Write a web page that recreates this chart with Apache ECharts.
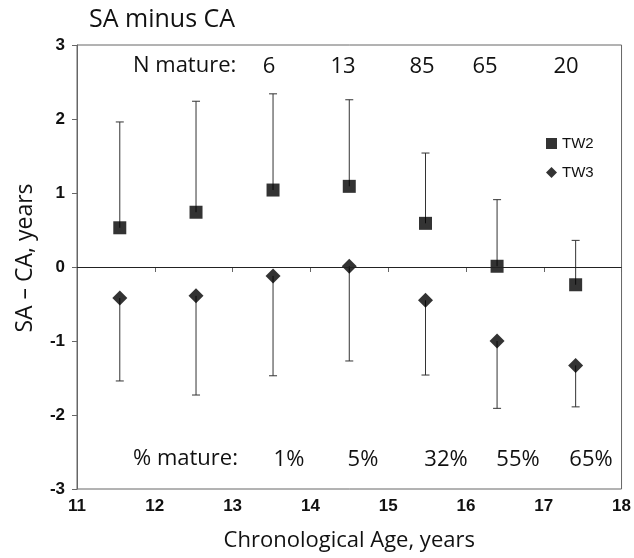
<!DOCTYPE html>
<html>
<head>
<meta charset="utf-8">
<script src="https://cdn.jsdelivr.net/npm/echarts@6/dist/echarts.min.js"></script>
<style>
html, body { margin: 0; padding: 0; background: #fff; }
#main { width: 634px; height: 558px; }
</style>
</head>
<body>
<div id="main"></div>
<script>
// data
var ages = [11.55, 12.53, 13.52, 14.5, 15.48, 16.4, 17.41];
var tw2Mean = [0.53, 0.74, 1.04, 1.09, 0.59, 0.01, -0.24];
var tw2Upper = [1.96, 2.24, 2.34, 2.26, 1.54, 0.91, 0.36];
var tw3Mean = [-0.42, -0.39, -0.12, 0.01, -0.45, -1.0, -1.33];
var tw3Lower = [-1.54, -1.73, -1.47, -1.27, -1.46, -1.91, -1.89];
var nMature = ["6", "13", "85", "65", "20"];
var pctMature = ["1%", "5%", "32%", "55%", "65%"];

// where the annotation texts sit (pixels)
var nMatureX = [269, 343, 422, 485, 566];
var pctMatureX = [289, 363, 446, 518, 591];

var myChart = echarts.init(document.getElementById("main"));

var textFont = "'Open Sans', 'DejaVu Sans', sans-serif";
var tickFont = "'Liberation Sans', Arial, sans-serif";

function pairs(xs, ys) {
  return xs.map(function(x, i) { return [x, ys[i]]; });
}
function triples(xs, a, b) {
  return xs.map(function(x, i) { return [x, a[i], b[i]]; });
}

// 误差线：从均值画到端点，端点加一个小横线
function errorBar(params, api) {
  var p0 = api.coord([api.value(0), api.value(1)]);
  var p1 = api.coord([api.value(0), api.value(2)]);
  var style = { stroke: "#333", lineWidth: 1 };
  return {
    type: "group",
    children: [
      { type: "line", shape: { x1: p0[0], y1: p0[1], x2: p1[0], y2: p1[1] }, style: style },
      { type: "line", shape: { x1: p1[0] - 4, y1: p1[1], x2: p1[0] + 4, y2: p1[1] }, style: style }
    ]
  };
}

var graphics = [];
graphics.push({
  type: "text", left: 133, top: 55,
  style: { text: "N mature:", font: "22px " + textFont, fill: "#111" }
});
nMature.forEach(function(t, i) {
  graphics.push({
    type: "text", x: nMatureX[i], y: 67,
    style: { text: t, font: "22px " + textFont, fill: "#111", textAlign: "center", textVerticalAlign: "middle" }
  });
});
graphics.push({
  type: "text", left: 133, top: 448,
  style: { text: "% mature:", font: "22px " + textFont, fill: "#111" }
});
pctMature.forEach(function(t, i) {
  graphics.push({
    type: "text", x: pctMatureX[i], y: 460,
    style: { text: t, font: "22px " + textFont, fill: "#111", textAlign: "center", textVerticalAlign: "middle" }
  });
});

var option = {
  animation: false,
  backgroundColor: "#fff",
  title: {
    text: "SA minus CA",
    left: 89,
    top: 7,
    padding: 0,
    textStyle: { fontFamily: textFont, fontSize: 25, fontWeight: "normal", color: "#111" }
  },
  legend: {
    orient: "vertical",
    left: 541,
    top: 131,
    itemWidth: 11,
    itemHeight: 11,
    itemGap: 14,
    textStyle: { fontFamily: tickFont, fontSize: 15, color: "#111" },
    data: [
      { name: "TW2", icon: "rect" },
      { name: "TW3", icon: "diamond" }
    ]
  },
  grid: {
    left: 77,
    right: 12,
    top: 45,
    bottom: 69,
    show: true,
    borderColor: "#666",
    borderWidth: 1
  },
  xAxis: {
    type: "value",
    min: 11,
    max: 18,
    interval: 1,
    name: "Chronological Age, years",
    nameLocation: "middle",
    nameGap: 41,
    nameTextStyle: { fontFamily: textFont, fontSize: 22, color: "#111" },
    axisLine: { lineStyle: { color: "#666" } },
    axisTick: { show: true, inside: false, length: 5, lineStyle: { color: "#666" } },
    axisLabel: { fontFamily: tickFont, fontSize: 17, fontWeight: "bold", color: "#111", margin: 9 },
    splitLine: { show: false }
  },
  yAxis: {
    type: "value",
    min: -3,
    max: 3,
    interval: 1,
    name: "SA \u2013 CA, years",
    nameLocation: "middle",
    nameGap: 40,
    nameTextStyle: { fontFamily: textFont, fontSize: 23, color: "#111", padding: [0, 0, 0, 18] },
    axisLine: { lineStyle: { color: "#666" } },
    axisTick: { show: true, inside: false, length: 5, lineStyle: { color: "#666" } },
    axisLabel: { fontFamily: tickFont, fontSize: 17, fontWeight: "bold", color: "#111", margin: 12 },
    splitLine: { show: false }
  },
  series: [
    {
      name: "TW2 error",
      type: "custom",
      renderItem: errorBar,
      data: triples(ages, tw2Mean, tw2Upper),
      z: 1,
      silent: true
    },
    {
      name: "TW3 error",
      type: "custom",
      renderItem: errorBar,
      data: triples(ages, tw3Mean, tw3Lower),
      z: 1,
      silent: true
    },
    {
      name: "TW2",
      type: "scatter",
      symbol: "rect",
      symbolSize: 13,
      itemStyle: { color: "#000" },
      data: pairs(ages, tw2Mean),
      z: 3,
      markLine: {
        silent: true,
        symbol: "none",
        label: { show: false },
        lineStyle: { color: "#222", width: 1, type: "solid" },
        data: [{ yAxis: 0 }]
      }
    },
    {
      name: "TW3",
      type: "scatter",
      symbol: "diamond",
      symbolSize: 15,
      itemStyle: { color: "#000" },
      data: pairs(ages, tw3Mean),
      z: 3
    }
  ],
  graphic: graphics
};

myChart.setOption(option);
</script>
</body>
</html>
